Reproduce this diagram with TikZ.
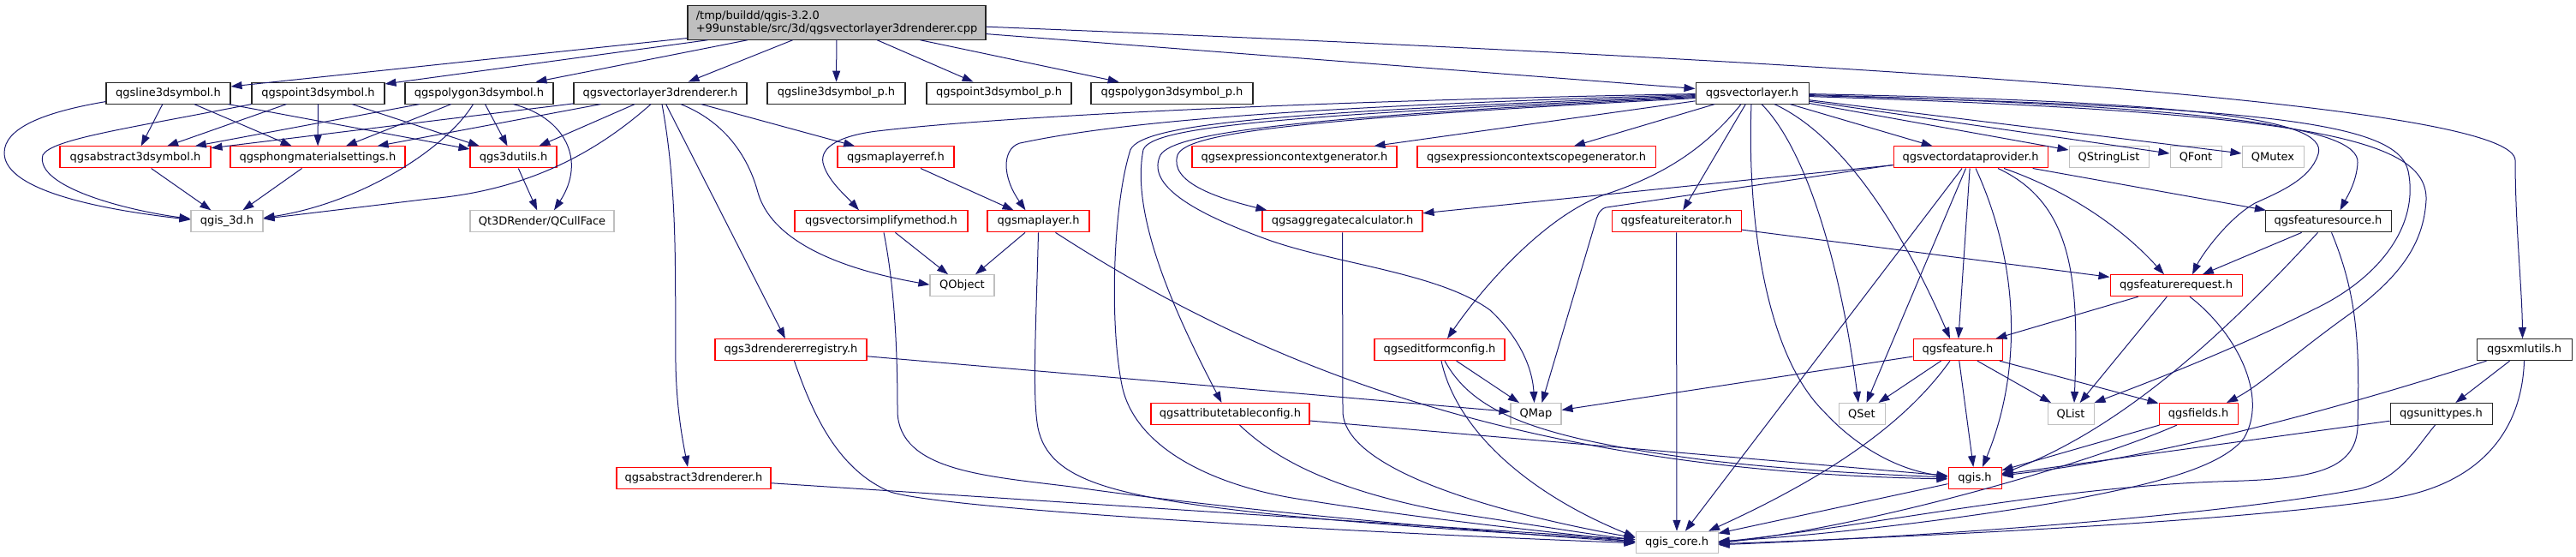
\documentclass[tikz,border=0pt]{standalone}
\usepackage{fontspec}
\setmainfont{DejaVu Sans}
\usetikzlibrary{arrows.meta}
\definecolor{edgec}{RGB}{25,25,112}
\definecolor{grayb}{RGB}{191,191,191}
\begin{document}
\begin{tikzpicture}[x=1pt,y=-1.2481pt,
  nd/.style={draw, line width=1.05pt, inner sep=0pt, minimum height=25pt, font=\fontsize{13}{15}\selectfont, text=black},
  kb/.style={nd, draw=black!85},
  kr/.style={nd, draw=red},
  kg/.style={nd, draw=grayb},
  e/.style={draw=edgec, line width=1pt, -{Triangle[length=13pt,width=9pt]}}]
\useasboundingbox (0,0) rectangle (3008,520);
% nodes
\node[nd, draw=black!85, fill=grayb, minimum width=348pt, minimum height=40pt, align=left] (root) at (977,21) {/tmp/buildd/qgis-3.2.0\\+99unstable/src/3d/qgsvectorlayer3drenderer.cpp};
\node[kb, minimum width=145pt] (l3d) at (196.5,87) {qgsline3dsymbol.h};
\node[kb, minimum width=155pt] (p3d) at (371.5,87) {qgspoint3dsymbol.h};
\node[kb, minimum width=173pt] (pg3d) at (559.5,87) {qgspolygon3dsymbol.h};
\node[kb, minimum width=202pt] (vlr) at (771,87) {qgsvectorlayer3drenderer.h};
\node[kb, minimum width=161pt] (l3dp) at (976.5,87) {qgsline3dsymbol\_p.h};
\node[kb, minimum width=169pt] (p3dp) at (1166.5,87) {qgspoint3dsymbol\_p.h};
\node[kb, minimum width=189pt] (pg3dp) at (1368.5,87) {qgspolygon3dsymbol\_p.h};
\node[kb, minimum width=132pt] (vl) at (2046,87) {qgsvectorlayer.h};
\node[kr, minimum width=176pt] (abs3d) at (158,147) {qgsabstract3dsymbol.h};
\node[kr, minimum width=204pt] (phong) at (371,147) {qgsphongmaterialsettings.h};
\node[kr, minimum width=101pt] (u3d) at (599.5,147) {qgs3dutils.h};
\node[kr, minimum width=136pt] (mlr) at (1046,147) {qgsmaplayerref.h};
\node[kr, minimum width=239pt] (ecg) at (1511.5,147) {qgsexpressioncontextgenerator.h};
\node[kr, minimum width=278pt] (ecsg) at (1794,147) {qgsexpressioncontextscopegenerator.h};
\node[kr, minimum width=180pt] (vdp) at (2301,147) {qgsvectordataprovider.h};
\node[kg, minimum width=93pt] (qsl) at (2462.5,147) {QStringList};
\node[kg, minimum width=60pt] (qfont) at (2564,147) {QFont};
\node[kg, minimum width=72pt] (qmutex) at (2654,147) {QMutex};
\node[kg, minimum width=84pt] (q3d) at (265,207) {qgis\_3d.h};
\node[kg, minimum width=168pt] (cull) at (633,207) {Qt3DRender/QCullFace};
\node[kr, minimum width=202pt] (vsm) at (1029,207) {qgsvectorsimplifymethod.h};
\node[kr, minimum width=119pt] (ml) at (1212.5,207) {qgsmaplayer.h};
\node[kr, minimum width=187pt] (agg) at (1567.5,207) {qgsaggregatecalculator.h};
\node[kr, minimum width=151pt] (fi) at (1957.5,207) {qgsfeatureiterator.h};
\node[kb, minimum width=147pt] (fs) at (2718.5,207) {qgsfeaturesource.h};
\node[kg, minimum width=75pt] (qobj) at (1123.5,267) {QObject};
\node[kr, minimum width=154pt] (fr) at (2541,267) {qgsfeaturerequest.h};
\node[kr, minimum width=177pt] (rreg) at (923.5,327) {qgs3drendererregistry.h};
\node[kr, minimum width=152pt] (efc) at (1681,327) {qgseditformconfig.h};
\node[kr, minimum width=104pt] (feat) at (2286,327) {qgsfeature.h};
\node[kb, minimum width=111pt] (xml) at (2947.5,327) {qgsxmlutils.h};
\node[kr, minimum width=185pt] (atc) at (1436.5,387) {qgsattributetableconfig.h};
\node[kg, minimum width=59pt] (qmap) at (1793.5,387) {QMap};
\node[kg, minimum width=54pt] (qset) at (2174,387) {QSet};
\node[kg, minimum width=54pt] (qlist) at (2418,387) {QList};
\node[kr, minimum width=92pt] (fields) at (2567,387) {qgsfields.h};
\node[kb, minimum width=119pt] (ut) at (2850.5,387) {qgsunittypes.h};
\node[kr, minimum width=180pt] (ar) at (810,447) {qgsabstract3drenderer.h};
\node[kr, minimum width=62pt] (qgis) at (2306,447) {qgis.h};
\node[kg, minimum width=96pt] (core) at (1958,507) {qgis\_core.h};
% straight edges
\foreach \a/\b in {root/l3d, root/p3d, root/pg3d, root/vlr, root/l3dp, root/p3dp, root/pg3dp, root/vl,
  l3d/abs3d, l3d/phong, l3d/u3d, p3d/abs3d, p3d/phong, p3d/u3d, pg3d/abs3d, pg3d/phong, pg3d/u3d,
  vlr/abs3d, vlr/phong, vlr/u3d, vlr/mlr, vlr/rreg, abs3d/q3d, phong/q3d, u3d/cull, mlr/ml,
  ml/qobj, vsm/qobj, vl/ecg, vl/ecsg, vl/fi, vl/vdp, vl/qsl, vl/qfont, vl/qmutex,
  vdp/agg, vdp/core, vdp/qset, vdp/feat, vdp/fs, fi/core, fi/fr, fr/feat, fr/qlist, fs/fr,
  feat/qmap, feat/qset, feat/qlist, feat/fields, feat/qgis, fields/qgis, qgis/core, xml/ut,
  ut/qgis, efc/qmap, atc/qgis, rreg/qmap, ar/core}
  \draw[e] (\a) -- (\b);
% curved edges
\draw[e] ([yshift=-5pt]root.east) .. controls (2400,65) and (2937,105) .. (2937,150) .. controls (2937,210) and (2945,270) .. ([xshift=-2pt]xml.north);
\draw[e] ([yshift=-10pt]l3d.west) .. controls (50,105) and (5,120) .. (5,143) .. controls (5,180) and (130,197) .. ([yshift=2pt]q3d.west);
\draw[e] (p3d.south west) .. controls (150,120) and (60,130) .. (50,145) .. controls (40,175) and (150,197) .. ([yshift=3pt]q3d.west);
\draw[e] ([xshift=40pt]pg3d.south) .. controls (660,110) and (685,150) .. ([xshift=14pt]cull.north);
\draw[e] ([xshift=-7pt]pg3d.south) .. controls (520,140) and (420,190) .. ([yshift=4pt]q3d.east);
\draw[e] ([xshift=-11pt]vlr.south) .. controls (700,140) and (620,178) .. (500,186) -- ([yshift=3pt]q3d.east);
\draw[e] ([xshift=24pt]vlr.south) .. controls (850,115) and (875,150) .. (885,180) .. controls (900,222) and (970,250) .. ([yshift=1pt]qobj.west);
\draw[e] ([xshift=2pt]vlr.south) .. controls (792,180) and (788,260) .. (789,340) .. controls (790,385) and (798,415) .. ([xshift=-7pt]ar.north);
\draw[e] ([yshift=-1pt]vl.west) .. controls (1500,95) and (1150,110) .. (1020,123) .. controls (975,128) and (955,140) .. (962,155) .. controls (968,170) and (990,185) .. ([xshift=-26pt]vsm.north);
\draw[e] ([yshift=-2pt]vl.west) .. controls (1500,100) and (1300,115) .. (1190,134) .. controls (1170,140) and (1170,165) .. ([xshift=-15pt]ml.north);
\draw[e] ([yshift=-3pt]vl.west) .. controls (1500,105) and (1335,115) .. (1320,140) .. controls (1300,190) and (1295,300) .. (1310,360) .. controls (1325,420) and (1420,455) .. (1520,467) .. controls (1700,490) and (1850,500) .. (core.west);
\draw[e] ([yshift=-4pt]vl.west) .. controls (1500,108) and (1345,118) .. (1335,140) .. controls (1320,200) and (1370,290) .. ([xshift=-10pt]atc.north);
\draw[e] ([yshift=-5pt]vl.west) .. controls (1500,110) and (1370,125) .. (1355,145) .. controls (1340,170) and (1380,195) .. (1480,224) .. controls (1560,247) and (1680,255) .. (1740,290) .. controls (1780,320) and (1790,350) .. ([xshift=-2pt]qmap.north);
\draw[e] ([yshift=-6pt]vl.west) .. controls (1500,112) and (1385,125) .. (1375,145) .. controls (1365,170) and (1420,185) .. ([xshift=-88pt]agg.north);
\draw[e] ([xshift=-13pt]vl.south) .. controls (1990,140) and (1940,165) .. (1870,183) .. controls (1800,205) and (1730,270) .. ([xshift=9pt]efc.north);
\draw[e] ([xshift=-1pt]vl.south) .. controls (2040,200) and (2060,330) .. (2130,385) .. controls (2170,420) and (2220,440) .. ([yshift=2pt]qgis.west);
\draw[e] ([xshift=11pt]vl.south) .. controls (2110,140) and (2150,250) .. ([xshift=-4pt]qset.north);
\draw[e] ([xshift=26pt]vl.south) .. controls (2160,130) and (2230,230) .. ([xshift=-9pt]feat.north);
\draw[e] ([yshift=-1pt]vl.east) .. controls (2550,95) and (2720,110) .. (2707,144) .. controls (2698,168) and (2660,180) .. (2633,190) .. controls (2600,205) and (2570,240) .. ([xshift=19pt]fr.north);
\draw[e] ([yshift=-2pt]vl.east) .. controls (2600,100) and (2755,120) .. (2753,152) .. controls (2752,170) and (2740,185) .. ([xshift=14pt]fs.north);
\draw[e] ([yshift=-3pt]vl.east) .. controls (2650,100) and (2800,115) .. (2812,160) .. controls (2825,210) and (2780,260) .. (2700,290) .. controls (2600,330) and (2500,360) .. (qlist.north east);
\draw[e] ([yshift=-4pt]vl.east) .. controls (2700,105) and (2835,130) .. (2833,187) .. controls (2830,230) and (2800,260) .. (2743,294) .. controls (2680,330) and (2640,360) .. ([xshift=33pt]fields.north);
\draw[e] ([yshift=-9pt]vdp.west) -- (1875,194) .. controls (1868,196) and (1866,200) .. (1864,205) -- ([xshift=7pt]qmap.north);
\draw[e] ([xshift=6pt]vdp.south) .. controls (2360,250) and (2360,350) .. ([xshift=9pt]qgis.north);
\draw[e] ([xshift=32pt]vdp.south) .. controls (2420,190) and (2428,260) .. ([xshift=4pt]qlist.north);
\draw[e] ([xshift=39pt]vdp.south) .. controls (2420,180) and (2480,215) .. ([xshift=-14pt]fr.north);
\draw[e] ([xshift=16pt]fr.south) .. controls (2610,310) and (2650,370) .. (2620,410) .. controls (2590,440) and (2500,455) .. (2400,470) .. controls (2250,490) and (2100,502) .. ([yshift=1pt]core.east);
\draw[e] ([xshift=-12pt]fs.south) .. controls (2600,310) and (2480,400) .. ([yshift=5pt]qgis.east);
\draw[e] ([xshift=4pt]fs.south) .. controls (2755,280) and (2755,330) .. (2753,400) .. controls (2750,440) and (2700,448) .. (2600,450) .. controls (2400,455) and (2200,490) .. (core.east);
\draw[e] ([xshift=-9pt]feat.south) .. controls (2230,390) and (2150,440) .. ([xshift=37pt]core.north);
\draw[e] ([xshift=-25pt]fields.south) .. controls (2450,430) and (2200,490) .. ([yshift=-1pt]core.east);
\draw[e] ([xshift=-44pt]xml.south) .. controls (2700,390) and (2500,430) .. ([yshift=3pt]qgis.east);
\draw[e] (xml.south) .. controls (2945,400) and (2900,450) .. (2800,465) .. controls (2650,485) and (2300,500) .. ([yshift=-2pt]core.east);
\draw[e] ([xshift=-7pt]ut.south) .. controls (2820,420) and (2800,450) .. (2750,458) .. controls (2600,480) and (2300,500) .. ([yshift=-3pt]core.east);
\draw[e] ([xshift=2pt]efc.south) .. controls (1700,400) and (1780,460) .. ([yshift=6pt]core.west);
\draw[e] ([xshift=6pt]efc.south) .. controls (1720,385) and (1790,410) .. (2000,431) .. controls (2100,440) and (2200,444) .. ([yshift=1pt]qgis.west);
\draw[e] ([xshift=11pt]atc.south) .. controls (1490,430) and (1560,460) .. (1700,480) .. controls (1800,492) and (1860,500) .. ([yshift=3pt]core.west);
\draw[e] (agg.south) -- (1568,385) .. controls (1570,440) and (1750,480) .. ([yshift=5pt]core.west);
\draw[e] (ml.south) .. controls (1210,300) and (1205,370) .. (1212,400) .. controls (1225,450) and (1300,465) .. (1500,482) .. controls (1700,497) and (1850,502) .. ([yshift=1pt]core.west);
\draw[e] ([xshift=3pt]vsm.south) .. controls (1045,270) and (1048,330) .. (1048,385) .. controls (1050,440) and (1150,445) .. (1250,455) .. controls (1450,478) and (1700,495) .. (core.west);
\draw[e] ([xshift=20pt]ml.south) .. controls (1450,330) and (1750,440) .. ([yshift=-1pt]qgis.west);
\draw[e] ([xshift=4pt]rreg.south) .. controls (950,390) and (980,440) .. (1040,460) .. controls (1100,475) and (1500,495) .. ([yshift=-1pt]core.west);
\end{tikzpicture}
\end{document}
